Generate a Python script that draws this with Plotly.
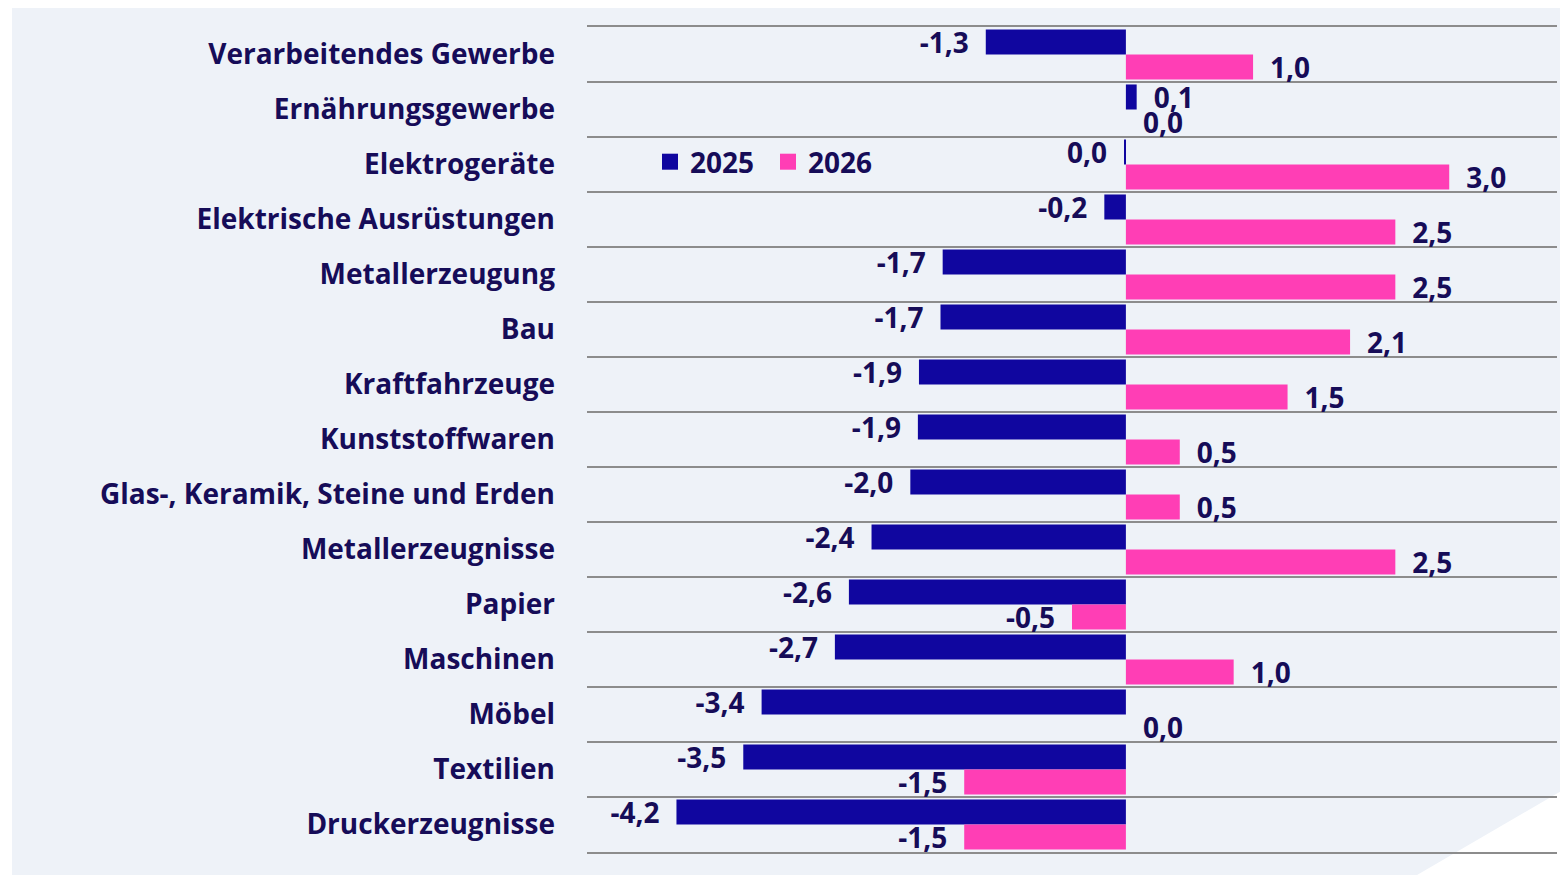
import plotly.graph_objects as go

categories = [
    "Verarbeitendes Gewerbe", "Ernährungsgewerbe", "Elektrogeräte",
    "Elektrische Ausrüstungen", "Metallerzeugung", "Bau", "Kraftfahrzeuge",
    "Kunststoffwaren", "Glas-, Keramik, Steine und Erden", "Metallerzeugnisse",
    "Papier", "Maschinen", "Möbel", "Textilien", "Druckerzeugnisse",
]
values_2025 = [-1.3, 0.1, -0.01, -0.2, -1.7, -1.72, -1.92, -1.93, -2.0, -2.36, -2.57, -2.7, -3.38, -3.55, -4.17]
labels_2025 = ["-1,3", "0,1", "0,0", "-0,2", "-1,7", "-1,7", "-1,9", "-1,9", "-2,0", "-2,4", "-2,6", "-2,7", "-3,4", "-3,5", "-4,2"]
values_2026 = [1.18, 0.0, 3.0, 2.5, 2.5, 2.08, 1.5, 0.5, 0.5, 2.5, -0.5, 1.0, 0.0, -1.5, -1.5]
labels_2026 = ["1,0", "0,0", "3,0", "2,5", "2,5", "2,1", "1,5", "0,5", "0,5", "2,5", "-0,5", "1,0", "0,0", "-1,5", "-1,5"]
series_names = ["2025", "2026"]

BLUE = "#10069f"
PINK = "#ff3eb5"
NAVY = "#160c58"
PANEL = "#eef2f8"
GRID = "#8c8c8c"
FONT = "Open Sans"
FS = 28

# page body has an 8px margin; the figure is drawn 8px smaller and shifted
OFF = 8
W, H = 1568 - OFF, 875 - OFF
ML, MR, MT, MB = 587 - OFF, 11, 27 - OFF, 23
PW, PH = W - ML - MR, H - MT - MB

SP = "\u2002"


def pad(lbl, v):
    return (lbl + SP) if v < 0 else (SP + lbl)


fig = go.Figure()
for name, vals, lbls, col in [(series_names[0], values_2025, labels_2025, BLUE),
                              (series_names[1], values_2026, labels_2026, PINK)]:
    fig.add_trace(go.Bar(
        name=name, y=categories, x=vals, orientation="h", showlegend=False,
        marker=dict(color=col, line=dict(width=0)),
        text=[pad(l, v if v != 0 else 1) for l, v in zip(lbls, vals)],
        textposition="outside", constraintext="none", cliponaxis=False,
        textfont=dict(family=FONT, size=FS, color=NAVY, weight="bold"),
    ))
# legend entries with square symbols
for name, col in [(series_names[0], BLUE), (series_names[1], PINK)]:
    fig.add_trace(go.Scatter(
        name=name, x=[None], y=[None], mode="markers",
        marker=dict(symbol="square", size=19, color=col, line=dict(width=0)),
        showlegend=True,
    ))


def px2paper(px, py):
    # px, py in page pixels
    return (px - OFF - ML) / PW, (H - MB - (py - OFF)) / PH


pts = [(12, 5), (1568, 5), (1568, 787), (1417, 875), (12, 875)]
path = "M " + " L ".join(f"{x:.4f},{y:.4f}" for x, y in (px2paper(a, b) for a, b in pts)) + " Z"

fig.update_layout(
    width=W, height=H,
    margin=dict(l=ML, r=MR, t=MT, b=MB, pad=0),
    paper_bgcolor="white", plot_bgcolor="rgba(0,0,0,0)",
    barmode="group", bargap=0.09, bargroupgap=0,
    font=dict(family=FONT, color=NAVY),
    shapes=[dict(type="path", path=path, xref="paper", yref="paper",
                 fillcolor=PANEL, line=dict(width=0), layer="below")],
    legend=dict(orientation="h", x=px2paper(650, 0)[0], y=px2paper(0, 162)[1],
                xanchor="left", yanchor="middle", bgcolor="rgba(0,0,0,0)",
                font=dict(family=FONT, size=FS, color=NAVY, weight="bold"),
                itemsizing="trace", itemwidth=30, traceorder="normal",
                entrywidth=73, entrywidthmode="pixels"),
    xaxis=dict(range=[-5, 4], showticklabels=False, ticks="", showgrid=False,
               zeroline=False, showline=True, mirror=True, linecolor=GRID,
               linewidth=2, fixedrange=True),
    yaxis=dict(autorange="reversed", tickson="boundaries", showgrid=True,
               gridcolor=GRID, gridwidth=2, ticks="", showline=False,
               ticklabelstandoff=31,
               tickfont=dict(family=FONT, size=FS, color=NAVY, weight="bold")),
)

fig.write_html("out.html")
